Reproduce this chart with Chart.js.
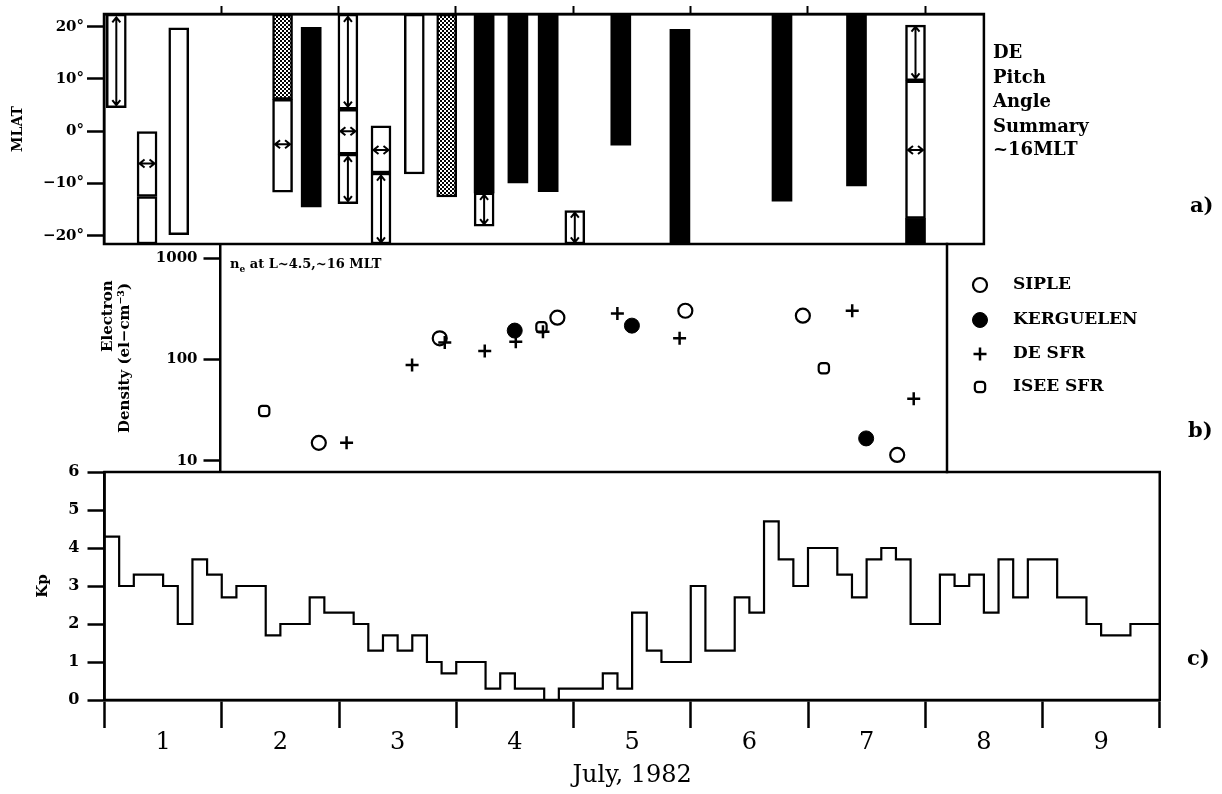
<!DOCTYPE html>
<html>
<head>
<meta charset="utf-8">
<script src="https://cdn.jsdelivr.net/npm/chart.js@4.4.1/dist/chart.umd.min.js"></script>
<style>
html,body{margin:0;padding:0;background:#fff;width:1222px;height:794px;overflow:hidden}
canvas{position:absolute;left:0;top:0}
</style>
</head>
<body>
<canvas id="ca" width="1222" height="794"></canvas>
<canvas id="cb" width="1222" height="794"></canvas>
<canvas id="cc" width="1222" height="794"></canvas>
<script>
// ================= DATA =================
// Panel a) DE pitch angle summary: segments [day of July (0 = start of July 1), low MLAT, high MLAT]
const whiteSegments = [
  [0.105, 4.5, 22.4],
  [0.367, -12.5, 0],
  [0.367, -21.6, -12.5],
  [0.637, -19.8, 19.8],
  [1.522, -11.7, 6.1],
  [2.079, 4.2, 22.4],
  [2.079, -4.4, 4.2],
  [2.079, -13.9, -4.4],
  [2.361, -8.0, 1.0],
  [2.361, -21.6, -8.0],
  [2.645, -8.2, 22.4],
  [3.240, -18.2, -11.8],
  [4.013, -21.6, -15.2],
  [6.917, 9.65, 20.3],
  [6.917, -16.7, 9.65]
];
const dottedSegments = [
  [1.522, 6.1, 22.4],
  [2.921, -12.6, 22.4]
];
const blackSegments = [
  [1.766, -14.5, 19.9],
  [3.240, -11.8, 22.4],
  [3.528, -9.9, 22.4],
  [3.786, -11.6, 22.4],
  [4.405, -2.7, 22.4],
  [4.909, -21.6, 19.5],
  [5.779, -13.4, 22.4],
  [6.414, -10.5, 22.4],
  [6.917, -21.6, -16.7]
];
// vertical double arrows [day, low MLAT, high MLAT]
const verticalArrows = [
  [0.105, 5.0, 21.8],
  [2.079, 4.7, 21.9],
  [2.079, -13.4, -4.9],
  [2.361, -21.3, -8.5],
  [3.240, -17.8, -12.2],
  [4.013, -21.3, -15.6],
  [6.917, 10.1, 20.0]
];
// horizontal double arrows [day, MLAT]
const horizontalArrows = [
  [0.367, -6.2],
  [1.522, -2.5],
  [2.079, 0],
  [2.361, -3.6],
  [6.917, -3.6]
];
const mlatTicks = [-20, -10, 0, 10, 20];
const mlatRange = [-21.6, 22.43];
const panelADayRange = [0, 7.5];
const panelAText = ['DE', 'Pitch', 'Angle', 'Summary', '~16MLT'];

// Panel b) electron density
const sipleDays = [1.829, 2.861, 3.865, 4.957, 5.960, 6.765];
const sipleValues = [15, 162, 259, 303, 271, 11.4];
const kerguelenDays = [3.501, 4.501, 6.500];
const kerguelenValues = [193, 216, 16.6];
const deSfrDays = [2.066, 2.625, 2.904, 3.245, 3.510, 3.742, 4.377, 4.908, 6.381, 6.906];
const deSfrValues = [15, 88, 147, 121, 150, 188, 284, 162, 303, 41];
const iseeDays = [1.363, 3.729, 6.139];
const iseeValues = [31, 208, 82];
const densityTicks = [10, 100, 1000];
const densityRange = [7.73, 1384];
const panelBDayRange = [0.99, 7.19];

// Panel c) Kp, 3-hour values July 1-9, 1982
const kpValues = [
  4.3, 3.0, 3.3, 3.3, 3.0, 2.0, 3.7, 3.3,
  2.7, 3.0, 3.0, 1.7, 2.0, 2.0, 2.7, 2.3,
  2.3, 2.0, 1.3, 1.7, 1.3, 1.7, 1.0, 0.7,
  1.0, 1.0, 0.3, 0.7, 0.3, 0.3, 0.0, 0.3,
  0.3, 0.3, 0.7, 0.3, 2.3, 1.3, 1.0, 1.0,
  3.0, 1.3, 1.3, 2.7, 2.3, 4.7, 3.7, 3.0,
  4.0, 4.0, 3.3, 2.7, 3.7, 4.0, 3.7, 2.0,
  2.0, 3.3, 3.0, 3.3, 2.3, 3.7, 2.7, 3.7,
  3.7, 2.7, 2.7, 2.0, 1.7, 1.7, 2.0, 2.0
];
const dayLabels = ['1', '2', '3', '4', '5', '6', '7', '8', '9'];
const kpTicks = [0, 1, 2, 3, 4, 5, 6];

// ================= STYLE / LAYOUT =================
const FONT = 'DejaVu Serif';
Chart.defaults.font.family = FONT;
Chart.defaults.font.weight = 'bold';
Chart.defaults.color = '#000';
Chart.defaults.animation = false;
Chart.defaults.plugins.legend.display = false;
Chart.defaults.plugins.tooltip.enabled = false;
Chart.defaults.events = [];

const W = 1222, H = 794;
const AX = 2.5;

function frameSides(sides, width) {
  return {
    id: 'frame',
    afterDatasetsDraw(chart) {
      const a = chart.chartArea, ctx = chart.ctx;
      ctx.save();
      ctx.strokeStyle = '#000';
      ctx.lineWidth = width;
      ctx.lineCap = 'square';
      ctx.beginPath();
      if (sides.includes('top')) { ctx.moveTo(a.left, a.top); ctx.lineTo(a.right, a.top); }
      if (sides.includes('right')) { ctx.moveTo(a.right, a.top); ctx.lineTo(a.right, a.bottom); }
      if (sides.includes('bottom')) { ctx.moveTo(a.left, a.bottom); ctx.lineTo(a.right, a.bottom); }
      if (sides.includes('left')) { ctx.moveTo(a.left, a.top); ctx.lineTo(a.left, a.bottom); }
      ctx.stroke();
      ctx.restore();
    }
  };
}

function drawText(ctx, text, x, y, font, align) {
  ctx.save();
  ctx.font = font;
  ctx.fillStyle = '#000';
  ctx.textAlign = align || 'left';
  ctx.textBaseline = 'middle';
  ctx.fillText(text, x, y);
  ctx.restore();
}

// stipple pattern for the dotted bars
function makeStipple() {
  const c = document.createElement('canvas');
  c.width = 4; c.height = 4;
  const g = c.getContext('2d');
  g.fillStyle = '#fff'; g.fillRect(0, 0, 4, 4);
  g.fillStyle = '#000';
  g.fillRect(0, 0, 2, 2);
  g.fillRect(2, 2, 2, 2);
  return g.createPattern(c, 'repeat');
}

const segPoints = segs => segs.map(s => ({x: s[0], y: [s[1], s[2]]}));

// ================= PANEL A =================
const A = {left: 104, top: 14, right: 983.9, bottom: 244};
new Chart(document.getElementById('ca'), {
  type: 'bar',
  data: {
    datasets: [
      {label: 'white', data: segPoints(whiteSegments), backgroundColor: '#fff', borderColor: '#000', borderWidth: 2.5},
      {label: 'dotted', data: segPoints(dottedSegments), backgroundColor: makeStipple(), borderColor: '#000', borderWidth: 2.5},
      {label: 'black', data: segPoints(blackSegments), backgroundColor: '#000', borderColor: '#000', borderWidth: 0}
    ]
  },
  options: {
    responsive: false,
    maintainAspectRatio: false,
    devicePixelRatio: 1,
    layout: {padding: {left: 0, top: 0, right: W - A.right, bottom: H - A.bottom}},
    datasets: {bar: {grouped: false, barThickness: 20, borderSkipped: false}},
    scales: {
      x: {
        type: 'linear', position: 'top', min: panelADayRange[0], max: panelADayRange[1],
        offset: false,
        afterBuildTicks: s => { s.ticks = [1, 2, 3, 4, 5, 6, 7].map(v => ({value: v})); },
        afterFit: s => { s.height = A.top; },
        grid: {offset: false, drawOnChartArea: false, drawTicks: true, tickLength: 8, tickWidth: 2, tickColor: '#000'},
        border: {display: true, color: '#000', width: AX},
        ticks: {display: false}
      },
      y: {
        type: 'linear', min: mlatRange[0], max: mlatRange[1],
        afterBuildTicks: s => { s.ticks = mlatTicks.map(v => ({value: v})); },
        afterFit: s => { s.width = A.left; },
        grid: {drawOnChartArea: false, drawTicks: true, tickLength: 17, tickWidth: 2.5, tickColor: '#000'},
        border: {display: true, color: '#000', width: AX},
        ticks: {padding: 3, font: {size: 15, weight: 'bold'}, callback: v => (v < 0 ? '\u2212' + Math.abs(v) : v) + '\u00b0'},
        title: {display: true, text: 'MLAT', font: {size: 14, weight: 'bold'}, padding: {top: 10, bottom: 0}}
      }
    }
  },
  plugins: [
    frameSides(['top', 'right', 'bottom', 'left'], AX),
    {
      id: 'arrows',
      afterDatasetsDraw(chart) {
        const ctx = chart.ctx, xs = chart.scales.x, ys = chart.scales.y;
        ctx.save();
        ctx.strokeStyle = '#000';
        ctx.lineWidth = 2;
        ctx.lineJoin = 'miter';
        const hd = 5, hw = 4;
        verticalArrows.forEach(([d, lo, hi]) => {
          const px = xs.getPixelForValue(d), pt = ys.getPixelForValue(hi), pb = ys.getPixelForValue(lo);
          ctx.beginPath();
          ctx.moveTo(px, pt); ctx.lineTo(px, pb);
          ctx.moveTo(px - hw, pt + hd); ctx.lineTo(px, pt); ctx.lineTo(px + hw, pt + hd);
          ctx.moveTo(px - hw, pb - hd); ctx.lineTo(px, pb); ctx.lineTo(px + hw, pb - hd);
          ctx.stroke();
        });
        horizontalArrows.forEach(([d, v]) => {
          const px = xs.getPixelForValue(d), py = ys.getPixelForValue(v);
          const l = px - 7.5, r = px + 7.5;
          ctx.beginPath();
          ctx.moveTo(l, py); ctx.lineTo(r, py);
          ctx.moveTo(l + hd, py - hw); ctx.lineTo(l, py); ctx.lineTo(l + hd, py + hw);
          ctx.moveTo(r - hd, py - hw); ctx.lineTo(r, py); ctx.lineTo(r - hd, py + hw);
          ctx.stroke();
        });
        ctx.restore();
      },
      afterDraw(chart) {
        const ctx = chart.ctx;
        const ys = [53, 78, 102, 127, 150];
        panelAText.forEach((t, i) => drawText(ctx, t, 993, ys[i], 'bold 18px "' + FONT + '"', 'left'));
        drawText(ctx, 'a)', 1190, 207, 'bold 21px "' + FONT + '"', 'left');
      }
    }
  ]
});

// ================= PANEL B =================
const B = {left: 220.5, top: 244, right: 947, bottom: 472};
const zip = (xs, ys) => xs.map((x, i) => ({x: x, y: ys[i]}));
new Chart(document.getElementById('cb'), {
  type: 'scatter',
  data: {
    datasets: [
      {label: 'SIPLE', data: zip(sipleDays, sipleValues), pointStyle: 'circle', pointRadius: 7, borderWidth: 2.2, borderColor: '#000', backgroundColor: 'rgba(0,0,0,0)'},
      {label: 'KERGUELEN', data: zip(kerguelenDays, kerguelenValues), pointStyle: 'circle', pointRadius: 7.5, borderWidth: 1, borderColor: '#000', backgroundColor: '#000'},
      {label: 'DE SFR', data: zip(deSfrDays, deSfrValues), pointStyle: 'cross', pointRadius: 6.5, borderWidth: 2.5, borderColor: '#000', backgroundColor: '#000'},
      {label: 'ISEE SFR', data: zip(iseeDays, iseeValues), pointStyle: 'rectRounded', pointRadius: 6, borderWidth: 2.2, borderColor: '#000', backgroundColor: 'rgba(0,0,0,0)'}
    ]
  },
  options: {
    responsive: false,
    maintainAspectRatio: false,
    devicePixelRatio: 1,
    layout: {padding: {left: 0, top: B.top, right: W - B.right, bottom: H - B.bottom}},
    scales: {
      x: {type: 'linear', display: false, min: panelBDayRange[0], max: panelBDayRange[1]},
      y: {
        type: 'logarithmic', min: densityRange[0], max: densityRange[1],
        afterBuildTicks: s => { s.ticks = densityTicks.map(v => ({value: v})); },
        afterFit: s => { s.width = B.left; },
        grid: {drawOnChartArea: false, drawTicks: true, tickLength: 17, tickWidth: 2.5, tickColor: '#000'},
        border: {display: true, color: '#000', width: AX},
        ticks: {padding: 6, font: {size: 15, weight: 'bold'}, callback: v => String(v)},
        title: {display: true, text: ['                Electron', 'Density (el\u2212cm\u207b\u00b3)'], font: {size: 15, weight: 'bold', lineHeight: 1.15}, padding: {top: 99, bottom: 0}}
      }
    }
  },
  plugins: [
    frameSides(['right'], AX),
    {
      id: 'annot',
      afterDraw(chart) {
        const ctx = chart.ctx;
        // n_e annotation
        ctx.save();
        ctx.fillStyle = '#000';
        ctx.textBaseline = 'middle';
        ctx.font = 'bold 13px "' + FONT + '"';
        let x = 230;
        ctx.fillText('n', x, 265);
        x += ctx.measureText('n').width;
        ctx.font = 'bold 9px "' + FONT + '"';
        ctx.fillText('e', x, 270);
        x += ctx.measureText('e').width;
        ctx.font = 'bold 13px "' + FONT + '"';
        ctx.fillText(' at L~4.5,~16 MLT', x, 265);
        ctx.restore();
        // legend
        const ly = [285, 320, 354, 387];
        chart.data.datasets.forEach((ds, i) => {
          ctx.save();
          ctx.strokeStyle = ds.borderColor;
          ctx.fillStyle = ds.backgroundColor;
          ctx.lineWidth = ds.borderWidth;
          Chart.helpers.drawPoint(ctx, {pointStyle: ds.pointStyle, radius: ds.pointRadius, rotation: 0, borderWidth: ds.borderWidth}, 980, ly[i]);
          ctx.restore();
          drawText(ctx, ds.label, 1013, ly[i], 'bold 17px "' + FONT + '"', 'left');
        });
        drawText(ctx, 'b)', 1188, 432, 'bold 21px "' + FONT + '"', 'left');
      }
    }
  ]
});

// ================= PANEL C =================
const C = {left: 104.5, top: 472, right: 1159.75, bottom: 700};
const kpPoints = kpValues.map((v, i) => ({x: i / 8, y: v}));
kpPoints.push({x: kpValues.length / 8, y: kpValues[kpValues.length - 1]});
new Chart(document.getElementById('cc'), {
  type: 'line',
  data: {
    datasets: [{label: 'Kp', data: kpPoints, stepped: 'before', borderColor: '#000', borderWidth: 2.2, pointRadius: 0, fill: false, tension: 0}]
  },
  options: {
    responsive: false,
    maintainAspectRatio: false,
    devicePixelRatio: 1,
    layout: {padding: {left: 0, top: C.top, right: W - C.right, bottom: 0}},
    scales: {
      x: {
        type: 'linear', min: 0, max: dayLabels.length,
        afterBuildTicks: s => { const t = []; for (let k = 0; k <= dayLabels.length * 2; k++) t.push({value: k / 2}); s.ticks = t; },
        afterFit: s => { s.height = H - C.bottom; },
        grid: {drawOnChartArea: false, drawTicks: true, tickLength: 28, tickWidth: 2.5,
               tickColor: c => (c.tick && Number.isInteger(c.tick.value)) ? '#000' : 'rgba(0,0,0,0)'},
        border: {display: true, color: '#000', width: AX},
        ticks: {padding: 0, maxRotation: 0, autoSkip: false, font: {size: 24, weight: 'normal'},
                callback: v => Number.isInteger(v) ? '' : dayLabels[Math.floor(v)]},
        title: {display: true, text: 'July, 1982', font: {size: 24, weight: 'normal'}, padding: {top: 0, bottom: 4}}
      },
      y: {
        type: 'linear', min: 0, max: 6,
        afterBuildTicks: s => { s.ticks = kpTicks.map(v => ({value: v})); },
        afterFit: s => { s.width = C.left; },
        grid: {drawOnChartArea: false, drawTicks: true, tickLength: 17, tickWidth: 2.5, tickColor: '#000'},
        border: {display: true, color: '#000', width: AX},
        ticks: {padding: 8, font: {size: 16, weight: 'bold'}},
        title: {display: true, text: 'Kp', font: {size: 15, weight: 'bold'}, padding: {top: 34, bottom: 0}}
      }
    }
  },
  plugins: [
    frameSides(['top', 'right', 'bottom', 'left'], AX),
    {
      id: 'clabel',
      afterDraw(chart) {
        drawText(chart.ctx, 'c)', 1187, 660, 'bold 21px "' + FONT + '"', 'left');
      }
    }
  ]
});
</script>
</body>
</html>
